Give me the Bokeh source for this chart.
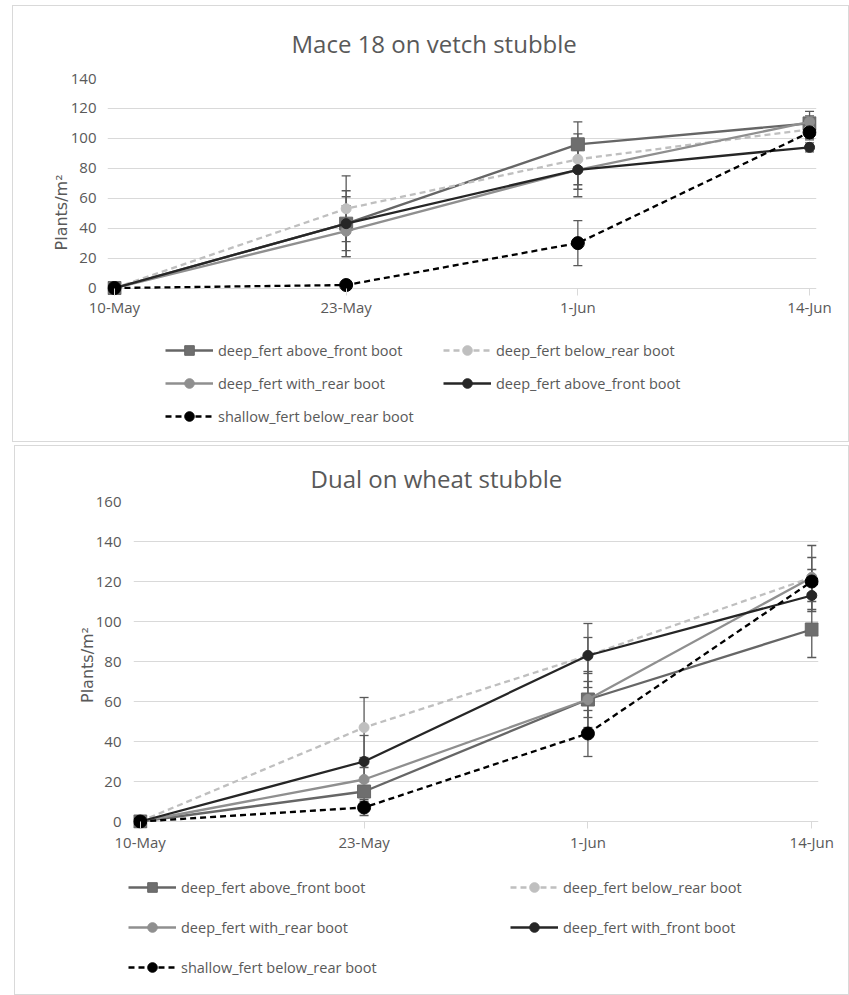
from bokeh.plotting import figure
from bokeh.models import (ColumnDataSource, Whisker, TeeHead, Legend, LegendItem,
                          FixedTicker, Range1d)
from bokeh.embed import file_html
from bokeh.resources import INLINE

# ---------------- data ----------------
dates = ["10-May", "23-May", "1-Jun", "14-Jun"]

mace_title = "Mace 18 on vetch stubble"
mace_labels = ["deep_fert above_front boot", "deep_fert below_rear boot",
               "deep_fert with_rear boot", "deep_fert above_front boot",
               "shallow_fert below_rear boot"]
mace_s1 = [0, 43, 96, 110]
mace_s2 = [0, 53, 86, 106]
mace_s3 = [0, 38, 79, 111]
mace_s4 = [0, 43, 79, 94]
mace_s5 = [0, 2, 30, 104]
mace_e1 = [0, 22, 15, 5]
mace_e2 = [0, 22, 17, 6]
mace_e3 = [0, 17, 13, 7]
mace_e4 = [0, 18, 18, 3]
mace_e5 = [0, 1, 15, 5]

wheat_title = "Dual on wheat stubble"
wheat_labels = ["deep_fert above_front boot", "deep_fert below_rear boot",
                "deep_fert with_rear boot", "deep_fert with_front boot",
                "shallow_fert below_rear boot"]
wheat_s1 = [0, 15, 61, 96]
wheat_s2 = [0, 47, 83, 122]
wheat_s3 = [0, 21, 61, 122]
wheat_s4 = [0, 30, 83, 113]
wheat_s5 = [0, 7, 44, 120]
wheat_e1 = [0, 5, 14, 14]
wheat_e2 = [0, 15, 16, 16]
wheat_e3 = [0, 6, 9, 10]
wheat_e4 = [0, 13, 9, 8]
wheat_e5 = [0, 4, 11.5, 6]

y_label = "Plants/m\u00b2"

# ---------------- styles ----------------
TEXT = "#595959"
GRID = "#d9d9d9"
FONT = "Open Sans"
series_style = [
    dict(color="#666666", dash="solid", marker="square", fill="#6e6e6e", size=13),
    dict(color="#bfbfbf", dash="6 4", marker="circle", fill="#bfbfbf", size=10),
    dict(color="#8f8f8f", dash="solid", marker="circle", fill="#8f8f8f", size=10),
    dict(color="#262626", dash="solid", marker="circle", fill="#262626", size=10),
    dict(color="#000000", dash="6 4", marker="circle", fill="#000000", size=13),
]


def border(*skip):
    st = {"border": "1px solid #d9d9d9", "box-sizing": "border-box"}
    for s in skip:
        st["border-" + s] = "none"
    return st


def make_chart(title, series, errors, ymax, g):
    xs = list(range(len(dates)))
    p = figure(width=g["w"], height=g["h"], output_backend="svg",
               toolbar_location=None,
               x_range=Range1d(-g["padx"], len(dates) - 1 + g["padx"]),
               y_range=Range1d(-g["pady"], ymax),
               min_border_left=g["l"], min_border_right=g["r"],
               min_border_top=g["t"], min_border_bottom=g["b"],
               margin=g["margin"], styles=border("bottom"))
    p.outline_line_color = None
    p.background_fill_color = "white"
    p.border_fill_color = "white"

    p.title.text = title
    p.title.text_font = FONT
    p.title.text_font_size = "24px"
    p.title.text_font_style = "normal"
    p.title.text_color = TEXT
    p.title.align = "left"
    p.title.vertical_align = "bottom"
    p.title.offset = g["title_off"]
    p.title.standoff = g["title_standoff"]

    p.xaxis.ticker = FixedTicker(ticks=xs)
    p.xaxis.major_label_overrides = {i: d for i, d in enumerate(dates)}
    p.xaxis.axis_line_color = None
    p.xaxis.major_tick_line_color = GRID
    p.xaxis.major_tick_out = 0
    p.xaxis.major_tick_in = g["tick_in"]
    p.xaxis.minor_tick_line_color = None
    p.xaxis.major_label_text_font = FONT
    p.xaxis.major_label_text_font_size = "15px"
    p.xaxis.major_label_text_color = TEXT
    p.xaxis.major_label_standoff = g["xstand"]

    p.yaxis.ticker = FixedTicker(ticks=list(range(0, ymax + 1, 20)))
    p.yaxis.axis_line_color = None
    p.yaxis.major_tick_line_color = None
    p.yaxis.minor_tick_line_color = None
    p.yaxis.major_label_text_font = FONT
    p.yaxis.major_label_text_font_size = "15px"
    p.yaxis.major_label_text_color = TEXT
    p.yaxis.major_label_standoff = g["ystand"]
    p.yaxis.axis_label = y_label + "\u00a0" * g["label_pad"]
    p.yaxis.axis_label_text_font = "DejaVu Sans"
    p.yaxis.axis_label_text_font_size = "16px"
    p.yaxis.axis_label_text_font_style = "normal"
    p.yaxis.axis_label_text_color = TEXT
    p.yaxis.axis_label_standoff = g["lstand"]

    p.xgrid.grid_line_color = None
    p.ygrid.grid_line_color = GRID
    p.ygrid.grid_line_width = 1

    for k, (vals, errs) in enumerate(zip(series, errors)):
        st = series_style[k]
        src = ColumnDataSource(dict(
            x=xs, y=vals,
            upper=[v + e for v, e in zip(vals, errs)],
            lower=[v - e for v, e in zip(vals, errs)]))
        w = Whisker(base="x", upper="upper", lower="lower", source=src,
                    line_color="#595959", line_width=1.3,
                    upper_head=TeeHead(size=9, line_color="#595959", line_width=1.3),
                    lower_head=TeeHead(size=9, line_color="#595959", line_width=1.3))
        p.add_layout(w)
        p.line("x", "y", source=src, line_color=st["color"], line_width=2.3,
               line_dash=st["dash"])
        p.scatter("x", "y", source=src, marker=st["marker"], size=st["size"],
                  fill_color=st["fill"], line_color=st["color"], line_width=1)
    return p


def make_legend(labels, g):
    # legend-only strip: proxy renderers hold a single NaN point (nothing drawn)
    lf = figure(width=g["w"], height=g["h"], output_backend="svg",
                toolbar_location=None, x_range=Range1d(0, 1), y_range=Range1d(0, 1),
                x_axis_type=None, y_axis_type=None, min_border=0,
                margin=g["margin"], styles=border("top"))
    lf.outline_line_color = None
    lf.border_fill_color = "white"
    items = []
    nan = float("nan")
    for k, st in enumerate(series_style):
        proxy = ColumnDataSource(dict(x=[nan], y=[nan]))
        ln = lf.line("x", "y", source=proxy, line_color=st["color"], line_width=2.3,
                     line_dash=st["dash"])
        sc = lf.scatter("x", "y", source=proxy, marker=st["marker"], size=st["size"],
                        fill_color=st["fill"], line_color=st["color"], line_width=1)
        items.append(LegendItem(label=labels[k], renderers=[ln, sc]))
    for idxs, loc in zip(g["cols"], g["locs"]):
        leg = Legend(items=[items[i] for i in idxs], location=loc,
                     orientation="vertical", glyph_width=48, glyph_height=24,
                     label_height=24, spacing=g["spacing"], padding=0, margin=0,
                     label_standoff=5, border_line_color=None,
                     background_fill_alpha=0, label_text_font=FONT,
                     label_text_font_size="14.5px", label_text_color=TEXT)
        lf.add_layout(leg)
    return lf


top = make_chart(mace_title,
                 [mace_s1, mace_s2, mace_s3, mace_s4, mace_s5],
                 [mace_e1, mace_e2, mace_e3, mace_e4, mace_e5], 140,
                 dict(w=837, h=317, l=94, r=34, t=72, b=28, margin=(5, 0, 0, 12),
                      padx=0.03, pady=5, tick_in=7,
                      title_off=184, title_standoff=37,
                      xstand=1, ystand=5, lstand=-3, label_pad=10))
top_leg = make_legend(mace_labels,
                      dict(w=837, h=120, margin=(0, 0, 0, 12), spacing=9,
                           cols=([0, 2, 4], [1, 3]), locs=((152, 14), (430, 47))))

bottom = make_chart(wheat_title,
                    [wheat_s1, wheat_s2, wheat_s3, wheat_s4, wheat_s5],
                    [wheat_e1, wheat_e2, wheat_e3, wheat_e4, wheat_e5], 160,
                    dict(w=835, h=415, l=118, r=32, t=55, b=33, margin=(3, 0, 0, 14),
                         padx=0.03, pady=3.5, tick_in=7,
                         title_off=177, title_standoff=14,
                         xstand=3, ystand=6, lstand=-4, label_pad=0))
bottom_leg = make_legend(wheat_labels,
                         dict(w=835, h=135, margin=(0, 0, 0, 14), spacing=16,
                              cols=([0, 2, 4], [1, 3]), locs=((113, 16), (495, 56))))

open("out.html", "w").write(file_html([top, top_leg, bottom, bottom_leg], INLINE))
